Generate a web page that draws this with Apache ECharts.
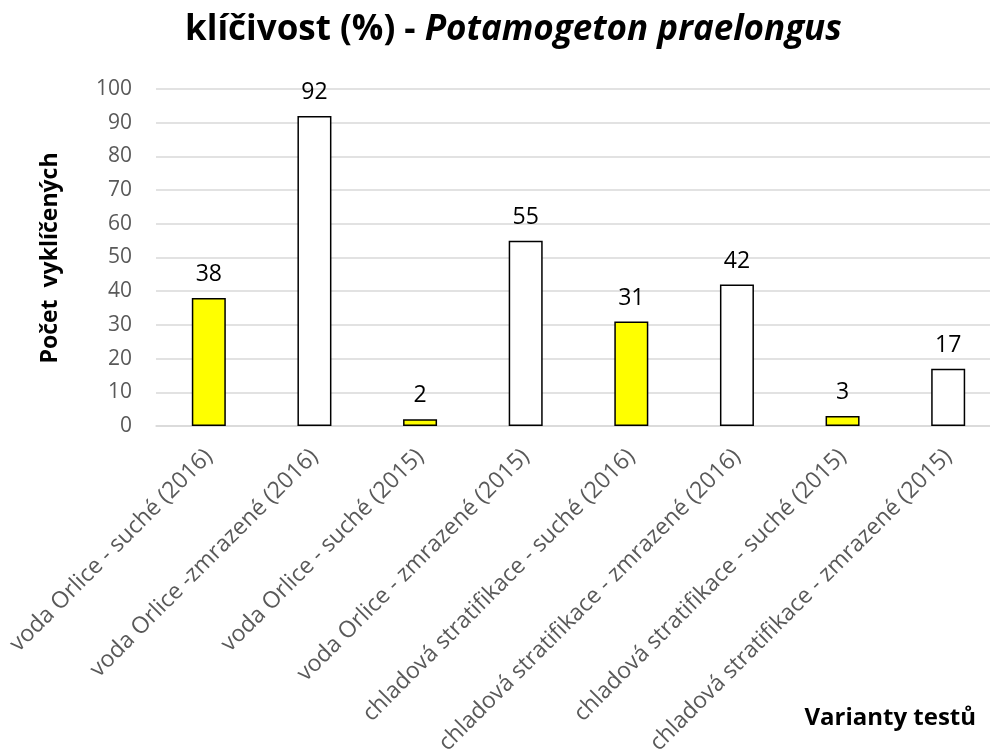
<!DOCTYPE html>
<html><head><meta charset="utf-8">
<script src="https://cdn.jsdelivr.net/npm/echarts@6/dist/echarts.min.js"></script>
<style>html,body{margin:0;padding:0;background:#fff}#c{width:990px;height:751px}</style>
</head><body><div id="c"></div>
<script>
const categories = [
  "voda Orlice - suché (2016)",
  "voda Orlice -zmrazené (2016)",
  "voda Orlice - suché (2015)",
  "voda Orlice - zmrazené (2015)",
  "chladová stratifikace - suché (2016)",
  "chladová stratifikace - zmrazené (2016)",
  "chladová stratifikace - suché (2015)",
  "chladová stratifikace - zmrazené (2015)"
];
const values = [38, 92, 2, 55, 31, 42, 3, 17];
const barColors = ["#FFFF00", "#FFFFFF", "#FFFF00", "#FFFFFF", "#FFFF00", "#FFFFFF", "#FFFF00", "#FFFFFF"];
const yTicks = [0, 10, 20, 30, 40, 50, 60, 70, 80, 90, 100];

const font = "'Open Sans', 'Noto Sans', sans-serif";
const chart = echarts.init(document.getElementById('c'));
chart.setOption({
  animation: false,
  title: {
    text: '{a|klíčivost (%) - }{b|Potamogeton praelongus}',
    left: 180, top: 8,
    textStyle: {
      rich: {
        a: {fontFamily: font, fontWeight: 'bold', fontSize: 35, color: '#000'},
        b: {fontFamily: font, fontWeight: 'bold', fontStyle: 'italic', fontSize: 35, color: '#000'}
      }
    }
  },
  grid: {left: 156, top: 89, width: 845, height: 337, containLabel: false, outerBoundsMode: 'none'},
  xAxis: {
    type: 'category',
    data: categories,
    axisLine: {lineStyle: {color: '#d9d9d9', width: 1.5}},
    axisTick: {show: false},
    axisLabel: {rotate: 45, interval: 0, margin: 27, color: '#595959', fontSize: 23, fontFamily: font}
  },
  yAxis: {
    type: 'value', min: 0, max: 100, interval: 10,
    axisLine: {show: false}, axisTick: {show: false},
    splitLine: {lineStyle: {color: '#d9d9d9', width: 1.5}},
    axisLabel: {color: '#595959', fontSize: 21, fontFamily: font, margin: 24,
      formatter: v => yTicks.includes(v) ? String(v) : ''}
  },
  series: [{
    type: 'bar',
    barWidth: 34,
    data: values.map((v, i) => ({value: v, itemStyle: {color: barColors[i]}})),
    itemStyle: {borderColor: '#000', borderWidth: 1.5},
    label: {show: true, position: 'top', distance: 12, color: '#000', fontSize: 23, fontFamily: font}
  }],
  graphic: [
    {type: 'text', x: 50, y: 258, rotation: Math.PI / 2, style: {
      text: 'Počet  vyklíčených', fill: '#000', font: 'bold 23px ' + font,
      textAlign: 'center', textVerticalAlign: 'middle'}},
    {type: 'text', right: 14, top: 706, style: {
      text: 'Varianty testů', fill: '#000', font: 'bold 24px ' + font}}
  ]
});
</script></body></html>
